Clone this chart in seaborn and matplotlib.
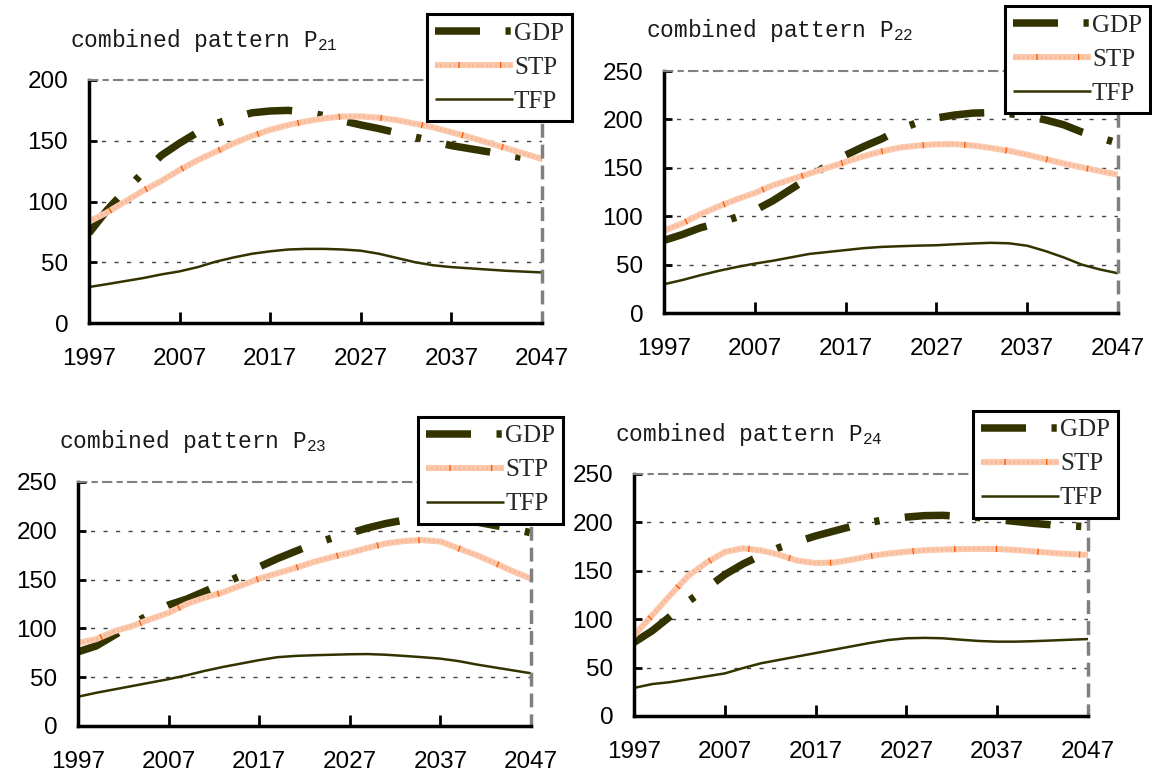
import matplotlib
matplotlib.use("Agg")
import matplotlib.pyplot as plt
from matplotlib.lines import Line2D
import seaborn as sns
import pandas as pd

# ---------------------------------------------------------------- data
years = [1997, 1999, 2001, 2003, 2005, 2007, 2009, 2011, 2013, 2015, 2017, 2019, 2021,
         2023, 2025, 2027, 2029, 2031, 2033, 2035, 2037, 2039, 2041, 2043, 2045, 2047]
x_ticks = [1997, 2007, 2017, 2027, 2037, 2047]

gdp_p21 = [74, 93, 109, 124, 138, 148, 157, 164, 169, 173, 174.5, 175, 173.5,
           170.5, 166.5, 163, 160, 156.5, 153, 149.5, 146, 143.5, 141, 138.5, 136, 133]
stp_p21 = [83.5, 91, 100, 109, 117, 126, 134, 141, 148, 154, 159, 163, 166,
           168.5, 170, 170, 169, 167, 164, 161, 157, 153, 148.5, 144, 139.5, 135]
tfp_p21 = [29.6, 32, 34.5, 37, 40, 42.5, 46, 50.5, 54, 57, 59, 60.5, 61,
           61, 60.5, 59.5, 57, 53.5, 50, 47.5, 46, 45, 44, 43, 42.3, 41.6]

gdp_p22 = [75, 81, 88, 93, 99, 106, 116, 128, 140, 153, 163, 172, 180,
           190, 197, 201.5, 204.5, 206.5, 207, 206, 203.5, 199.5, 194.5, 187, 181, 175.5]
stp_p22 = [85, 92.5, 102, 110, 117.5, 124, 132, 138, 144, 150, 156, 162, 167,
           171, 173, 174.3, 174.5, 173, 170.5, 167.5, 163.5, 159, 154.5, 150.5, 146.5, 143]
tfp_p22 = [29.7, 34, 39, 43.5, 47.5, 51, 54, 57.5, 61, 63, 65, 67, 68.3,
           69, 69.6, 70, 71, 71.8, 72.5, 72, 69.5, 64, 57.5, 50, 45, 41]

gdp_p23 = [76, 82, 93, 104, 115, 124, 130, 138, 146, 154, 163, 171.5, 179,
           186.5, 192.5, 197.5, 203, 207.5, 211, 213, 213.5, 212.5, 209, 205.5, 202, 198]
stp_p23 = [85, 89, 97, 102.5, 109.5, 116, 125, 131.5, 137, 144, 151, 156.5, 162,
           168, 173, 177.5, 182.5, 187, 189.5, 190.5, 189, 182, 175, 167, 158.5, 151]
tfp_p23 = [30, 34, 37.5, 41, 44.5, 48, 52, 56.5, 60.5, 64, 67.5, 70.5, 71.8,
           72.5, 73, 73.5, 73.7, 73, 71.8, 70.5, 69, 66.5, 63, 60, 57, 54]

gdp_p24 = [76, 88, 103, 118.6, 132, 146, 157, 166, 174, 180, 186, 191, 196,
           200, 203.5, 205.5, 207, 207.3, 206.3, 205, 203, 201, 199, 197.5, 196.5, 195.5]
stp_p24 = [83, 104, 125, 145, 158.5, 169.5, 173.3, 171, 166.5, 160.5, 158, 158.5, 161.5,
           165.2, 167.8, 169.7, 171.2, 172, 172.5, 172.6, 172.6, 171.5, 170, 168.5, 167.3, 166.4]
tfp_p24 = [29, 33, 35, 38, 41, 44, 49.5, 54.5, 58, 61.5, 65, 68.5, 72,
           75.5, 78.5, 80.3, 80.7, 80.3, 78.8, 77.5, 76.8, 76.8, 77.3, 78, 78.8, 79.5]

panel_names = ["21", "22", "23", "24"]
panel_ymax = [200, 250, 250, 250]
series_names = ["GDP", "STP", "TFP"]

# ---------------------------------------------------------------- style
sns.set_theme(style="white")
plt.rcParams["font.family"] = ["Liberation Sans", "DejaVu Sans"]

OLIVE = "#333300"
STP_BASE = "#fcc9ad"
STP_TEXTURE = "#f6ab88"
STP_TICK = "#ff5a00"

GDP_KW = dict(color=OLIVE, linewidth=5.4, solid_capstyle="butt", dash_capstyle="butt",
              linestyle=(0, (6.0, 3.4, 0.7, 3.4)))
STP_BASE_KW = dict(color=STP_BASE, linewidth=4.4, solid_capstyle="butt")
STP_TEX_KW = dict(color=STP_TEXTURE, linewidth=2.2, dash_capstyle="butt",
                  linestyle=(0, (0.6, 0.9)), alpha=0.6)
STP_TICK_KW = dict(color=STP_TICK, linewidth=4.4, dash_capstyle="butt",
                   linestyle=(3.0, (0.22, 6.6)))
TFP_KW = dict(color=OLIVE, linewidth=1.8, solid_capstyle="butt")

fig = plt.figure(figsize=(11.52, 7.73), dpi=100)
W, H = 1152.0, 773.0

# axes boxes in pixels: left, top, right, bottom
axes_px = [(89, 80, 542, 323), (664, 71, 1118, 313),
           (78, 482, 531, 726), (634, 474, 1088, 716)]
# titles: left, vertical centre
title_px = [(70, 40), (646, 30), (59, 441), (615, 435)]
# legend boxes: right, top
legend_px = [(572, 14), (1150, 6), (563, 417), (1118, 411)]

data_sets = [(gdp_p21, stp_p21, tfp_p21), (gdp_p22, stp_p22, tfp_p22),
             (gdp_p23, stp_p23, tfp_p23), (gdp_p24, stp_p24, tfp_p24)]

for i in range(4):
    l, t, r, b = axes_px[i]
    ax = fig.add_axes([l / W, 1 - b / H, (r - l) / W, (b - t) / H])
    gdp, stp, tfp = data_sets[i]
    df = pd.DataFrame({"year": years, "GDP": gdp, "STP": stp, "TFP": tfp})

    ymax = panel_ymax[i]
    ax.set_xlim(1997, 2047)
    ax.set_ylim(0, ymax)

    # horizontal grid
    for yv in range(50, ymax, 50):
        ax.axhline(yv, color="#444444", linewidth=1.0, linestyle=(0, (3, 6)), zorder=0.5)

    sns.lineplot(data=df, x="year", y="GDP", ax=ax, **GDP_KW)
    sns.lineplot(data=df, x="year", y="STP", ax=ax, **STP_BASE_KW)
    sns.lineplot(data=df, x="year", y="STP", ax=ax, **STP_TEX_KW)
    sns.lineplot(data=df, x="year", y="STP", ax=ax, **STP_TICK_KW)
    sns.lineplot(data=df, x="year", y="TFP", ax=ax, **TFP_KW)

    ax.set_xlabel("")
    ax.set_ylabel("")
    ax.set_xticks(x_ticks)
    ax.set_yticks(list(range(0, ymax + 1, 50)))
    ax.tick_params(axis="both", direction="in", length=8, width=2, colors="black",
                   labelsize=17.5, labelcolor="black")
    ax.tick_params(axis="x", pad=18)
    ax.tick_params(axis="y", pad=15, length=6)
    ax.tick_params(left=True, bottom=True)

    for side in ("left", "bottom"):
        ax.spines[side].set_visible(True)
        ax.spines[side].set_color("black")
        ax.spines[side].set_linewidth(2.5)
    ax.spines["top"].set_color("#808080")
    ax.spines["top"].set_linewidth(1.5)
    ax.spines["top"].set_linestyle((0, (4, 3, 2, 3)))
    ax.spines["right"].set_color("#808080")
    ax.spines["right"].set_linewidth(2.5)
    ax.spines["right"].set_linestyle((0, (3, 3)))

    # title
    tx, ty = title_px[i]
    fig.text(tx / W, 1 - ty / H,
             "combined pattern $\\mathregular{P_{" + panel_names[i] + "}}$",
             family="Liberation Mono", fontsize=16.5, color="#1a1a1a",
             ha="left", va="center")

    # legend
    h_gdp = Line2D([], [], **GDP_KW)
    h_stp = (Line2D([], [], **STP_BASE_KW), Line2D([], [], **STP_TEX_KW),
             Line2D([], [], **STP_TICK_KW))
    h_tfp = Line2D([], [], **TFP_KW)
    lx, ly = legend_px[i]
    leg = fig.legend([h_gdp, h_stp, h_tfp], series_names, loc="upper right",
                     bbox_to_anchor=(lx / W, 1 - ly / H), bbox_transform=fig.transFigure,
                     prop={"family": "Liberation Serif", "size": 18},
                     handlelength=3.1, handletextpad=0.05, labelspacing=0.46,
                     borderpad=0.32, borderaxespad=0, fancybox=False, framealpha=1,
                     edgecolor="black")
    leg.get_frame().set_linewidth(2.2)

fig.savefig("out.png", dpi=100)
